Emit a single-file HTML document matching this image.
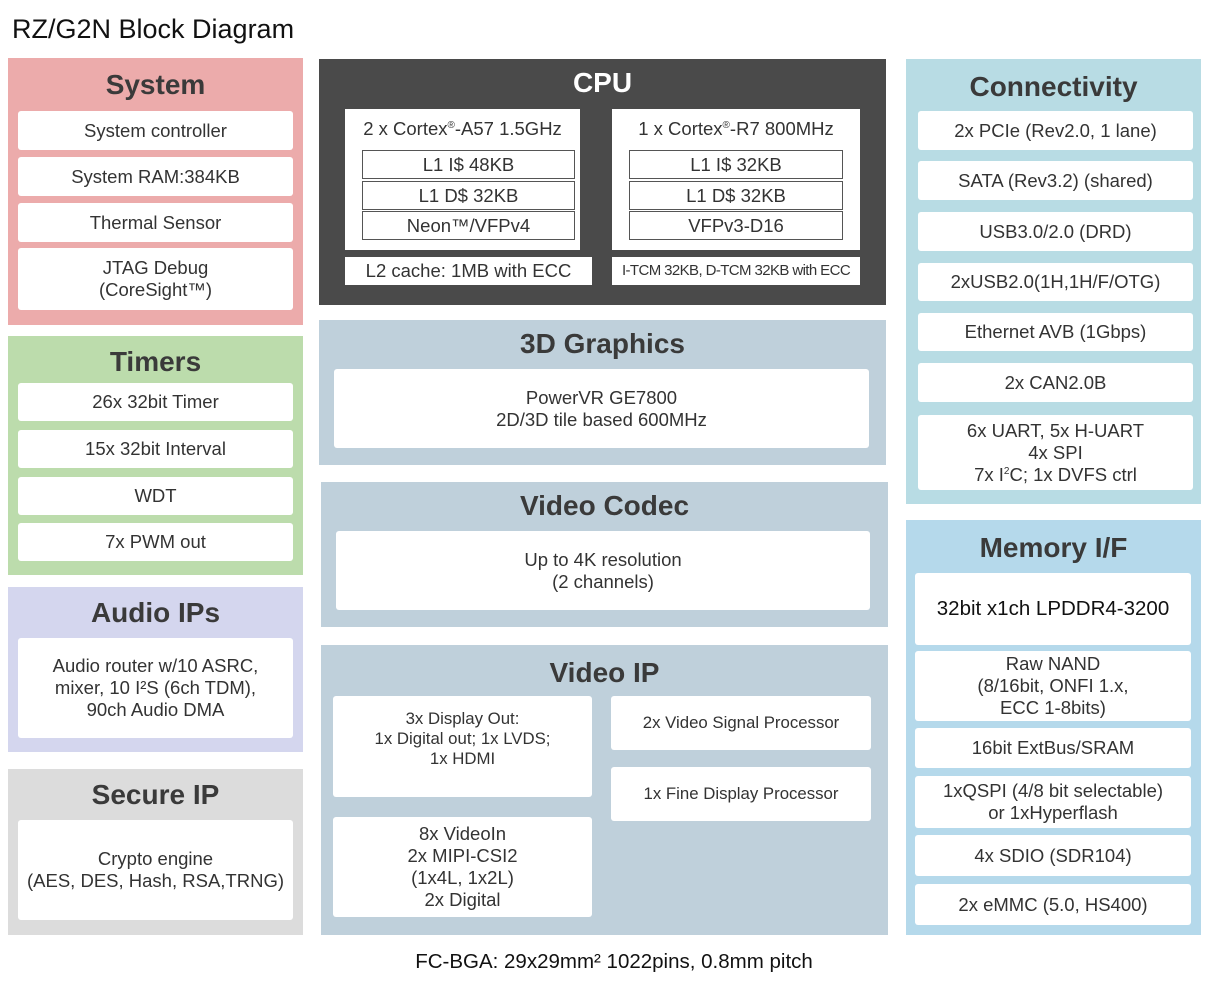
<!DOCTYPE html>
<html><head><meta charset="utf-8"><style>
body{margin:0;width:1209px;height:986px;background:#fff;position:relative;font-family:"Liberation Sans",sans-serif;color:#333;overflow:hidden}
.a{position:absolute;box-sizing:border-box}
.t{position:absolute;left:0;right:0;text-align:center;font-weight:bold;font-size:28px;color:#3a3a3a}
.b{position:absolute;box-sizing:border-box;background:#fff;border-radius:3px;display:flex;align-items:center;justify-content:center;text-align:center;font-size:18.5px;line-height:22px;color:#333}
.c{position:absolute;box-sizing:border-box;background:#fff;border:1px solid #555;display:flex;align-items:center;justify-content:center;font-size:18.5px;color:#333}
.v{font-size:16.8px;line-height:20px}
</style></head><body>
<div class="a" style="left:12px;top:14px;font-size:27px;color:#111">RZ/G2N Block Diagram</div>

<div class="a" style="left:8px;top:58px;width:295px;height:267px;background:#ecabab"><div class="t" style="top:11px">System</div></div>
<div class="b" style="left:18px;top:111px;width:275px;height:39px">System controller</div>
<div class="b" style="left:18px;top:157px;width:275px;height:39px">System RAM:384KB</div>
<div class="b" style="left:18px;top:203px;width:275px;height:39px">Thermal Sensor</div>
<div class="b" style="left:18px;top:248px;width:275px;height:62px"><div>JTAG Debug<br>(CoreSight™)</div></div>

<div class="a" style="left:8px;top:336px;width:295px;height:239px;background:#bcdcac"><div class="t" style="top:10px">Timers</div></div>
<div class="b" style="left:18px;top:383px;width:275px;height:38px">26x 32bit Timer</div>
<div class="b" style="left:18px;top:430px;width:275px;height:38px">15x 32bit Interval</div>
<div class="b" style="left:18px;top:477px;width:275px;height:38px">WDT</div>
<div class="b" style="left:18px;top:523px;width:275px;height:38px">7x PWM out</div>

<div class="a" style="left:8px;top:587px;width:295px;height:165px;background:#d4d6ee"><div class="t" style="top:10px">Audio IPs</div></div>
<div class="b" style="left:18px;top:638px;width:275px;height:100px"><div>Audio router w/10 ASRC,<br>mixer, 10 I²S (6ch TDM),<br>90ch Audio DMA</div></div>

<div class="a" style="left:8px;top:769px;width:295px;height:166px;background:#dcdcdc"><div class="t" style="top:10px">Secure IP</div></div>
<div class="b" style="left:18px;top:820px;width:275px;height:100px"><div>Crypto engine<br>(AES, DES, Hash, RSA,TRNG)</div></div>

<div class="a" style="left:319px;top:59px;width:567px;height:246px;background:#4a4a4a"><div class="t" style="top:8px;color:#fff">CPU</div></div>
<div class="a" style="left:345px;top:109px;width:235px;height:141px;background:#fff"><div style="position:absolute;top:9px;left:0;right:0;text-align:center;font-size:18.5px">2 x Cortex<sup style="font-size:10px">®</sup>-A57 1.5GHz</div></div>
<div class="c" style="left:362px;top:150px;width:213px;height:29px">L1 I$ 48KB</div>
<div class="c" style="left:362px;top:181px;width:213px;height:29px">L1 D$ 32KB</div>
<div class="c" style="left:362px;top:211px;width:213px;height:29px">Neon™/VFPv4</div>
<div class="a" style="left:612px;top:109px;width:248px;height:141px;background:#fff"><div style="position:absolute;top:9px;left:0;right:0;text-align:center;font-size:18.5px">1 x Cortex<sup style="font-size:10px">®</sup>-R7 800MHz</div></div>
<div class="c" style="left:629px;top:150px;width:214px;height:29px">L1 I$ 32KB</div>
<div class="c" style="left:629px;top:181px;width:214px;height:29px">L1 D$ 32KB</div>
<div class="c" style="left:629px;top:211px;width:214px;height:29px">VFPv3-D16</div>
<div class="b" style="left:345px;top:257px;width:247px;height:28px;border-radius:0">L2 cache: 1MB with ECC</div>
<div class="b" style="left:612px;top:257px;width:248px;height:28px;border-radius:0;font-size:15px;letter-spacing:-0.6px">I-TCM 32KB, D-TCM 32KB with ECC</div>

<div class="a" style="left:319px;top:320px;width:567px;height:145px;background:#bfd0db"><div class="t" style="top:8px">3D Graphics</div></div>
<div class="b" style="left:334px;top:369px;width:535px;height:79px"><div>PowerVR GE7800<br>2D/3D tile based 600MHz</div></div>

<div class="a" style="left:321px;top:482px;width:567px;height:145px;background:#bfd0db"><div class="t" style="top:8px">Video Codec</div></div>
<div class="b" style="left:336px;top:531px;width:534px;height:79px"><div>Up to 4K resolution<br>(2 channels)</div></div>

<div class="a" style="left:321px;top:645px;width:567px;height:290px;background:#bfd0db"><div class="t" style="top:12px">Video IP</div></div>
<div class="b v" style="left:333px;top:696px;width:259px;height:101px;padding-bottom:16px"><div>3x Display Out:<br>1x Digital out; 1x LVDS;<br>1x HDMI</div></div>
<div class="b v" style="left:611px;top:696px;width:260px;height:54px">2x Video Signal Processor</div>
<div class="b v" style="left:611px;top:767px;width:260px;height:54px">1x Fine Display Processor</div>
<div class="b" style="left:333px;top:817px;width:259px;height:100px"><div>8x VideoIn<br>2x MIPI-CSI2<br>(1x4L, 1x2L)<br>2x Digital</div></div>

<div class="a" style="left:906px;top:59px;width:295px;height:445px;background:#b8dce4"><div class="t" style="top:12px">Connectivity</div></div>
<div class="b" style="left:918px;top:111px;width:275px;height:39px">2x PCIe (Rev2.0, 1 lane)</div>
<div class="b" style="left:918px;top:161px;width:275px;height:39px">SATA (Rev3.2) (shared)</div>
<div class="b" style="left:918px;top:212px;width:275px;height:39px">USB3.0/2.0 (DRD)</div>
<div class="b" style="left:918px;top:263px;width:275px;height:38px">2xUSB2.0(1H,1H/F/OTG)</div>
<div class="b" style="left:918px;top:313px;width:275px;height:38px">Ethernet AVB (1Gbps)</div>
<div class="b" style="left:918px;top:363px;width:275px;height:39px">2x CAN2.0B</div>
<div class="b" style="left:918px;top:415px;width:275px;height:75px"><div>6x UART, 5x H-UART<br>4x SPI<br>7x I<sup style="font-size:10px;line-height:0">2</sup>C; 1x DVFS ctrl</div></div>

<div class="a" style="left:906px;top:520px;width:295px;height:415px;background:#b5d9eb"><div class="t" style="top:12px">Memory I/F</div></div>
<div class="b" style="left:915px;top:573px;width:276px;height:72px;font-size:20.5px;color:#111">32bit x1ch LPDDR4-3200</div>
<div class="b" style="left:915px;top:651px;width:276px;height:70px"><div>Raw NAND<br>(8/16bit, ONFI 1.x,<br>ECC 1-8bits)</div></div>
<div class="b" style="left:915px;top:728px;width:276px;height:40px">16bit ExtBus/SRAM</div>
<div class="b" style="left:915px;top:776px;width:276px;height:52px"><div>1xQSPI (4/8 bit selectable)<br>or 1xHyperflash</div></div>
<div class="b" style="left:915px;top:835px;width:276px;height:41px">4x SDIO (SDR104)</div>
<div class="b" style="left:915px;top:884px;width:276px;height:41px">2x eMMC (5.0, HS400)</div>

<div class="a" style="left:0;width:1228px;top:950px;text-align:center;font-size:20.5px;color:#111">FC-BGA: 29x29mm² 1022pins, 0.8mm pitch</div>
</body></html>
